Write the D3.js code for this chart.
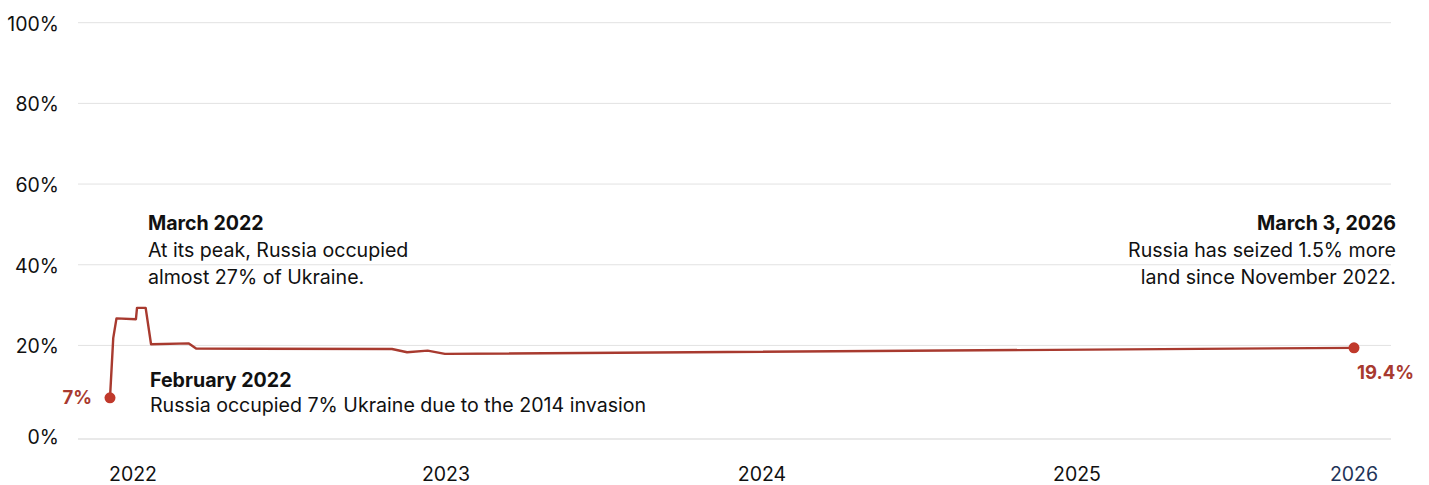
<!DOCTYPE html>
<html>
<head>
<meta charset="utf-8">
<script src="https://cdn.jsdelivr.net/npm/d3@7"></script>
<style>
  html, body { margin: 0; padding: 0; background: #fff; }
  svg { display: block; font-family: Inter, "Noto Sans", sans-serif; }
</style>
</head>
<body>
<svg id="chart"></svg>
<script>
// occupied share of Ukraine (%)
const dates = ["2022-02-24", "2022-02-27", "2022-03-02", "2022-03-20", "2022-03-21", "2022-03-29",
               "2022-04-03", "2022-05-08", "2022-05-15", "2022-11-12", "2022-11-26", "2022-12-15",
               "2022-12-31", "2026-03-03"];
const occupied = [7, 21.8, 26.7, 26.5, 29.3, 29.3, 20.3, 20.5, 19.2, 19.1, 18.3, 18.7, 17.9, 19.4];

const yTicks = [20, 40, 60, 80, 100];
const yearTicks = ["2023-01-01", "2024-01-01", "2025-01-01"];
const yearLabels = ["2023", "2024", "2025"];

const notes = [
  { date: "2022-03-20", anchor: "start", dx: 12, title: "March 2022",
    lines: ["At its peak, Russia occupied", "almost 27% of Ukraine."] },
  { date: "2026-03-03", anchor: "end", dx: 42, title: "March 3, 2026",
    lines: ["Russia has seized 1.5% more", "land since November 2022."] }
];

const width = 1429, height = 485;
const svg = d3.select("#chart").attr("width", width).attr("height", height);

const parse = d3.timeParse("%Y-%m-%d");
const data = dates.map((d, i) => ({ date: parse(d), value: occupied[i] }));
const first = data[0], last = data[data.length - 1];

const gridLeft = 78, gridRight = 1391;
const noteSize = 19.6, axisSize = 19.5;

// the time axis is stretched in 2022, so use a piecewise time scale
const x = d3.scaleTime()
    .domain([first.date, ...yearTicks.map(parse), last.date])
    .range([110, 446, 762, 1077, 1354]);

const y = d3.scaleLinear()
    .domain([-3.2, 100])
    .range([439, 22.7]);

const red = "#a83a2f";
const dotRed = "#c0392b";

// GRID
svg.append("g")
  .selectAll("line")
  .data(yTicks)
  .join("line")
    .attr("x1", gridLeft).attr("x2", gridRight)
    .attr("y1", d => y(d)).attr("y2", d => y(d))
    .attr("stroke", "#e2e2e2").attr("stroke-width", 1);

svg.append("line")
    .attr("x1", gridLeft).attr("x2", gridRight)
    .attr("y1", y(-3.2)).attr("y2", y(-3.2))
    .attr("stroke", "#e2e2e2").attr("stroke-width", 1.5);

// Y LABELS
const yLab = svg.append("g")
    .attr("font-size", axisSize).attr("fill", "#111").attr("text-anchor", "end");

yLab.selectAll("text")
  .data(yTicks)
  .join("text")
    .attr("x", 59)
    .attr("y", d => y(d) + 8)
    .text(d => d + "%");

yLab.append("text")
    .attr("x", 59).attr("y", y(-3.2) + 5)
    .text("0%");

// X LABELS
const xLab = svg.append("g").attr("font-size", axisSize).attr("fill", "#111");

xLab.append("text")
    .attr("x", x(first.date) - 1).attr("y", 481)
    .text("2022");

xLab.selectAll(".yr")
  .data(yearTicks)
  .join("text")
    .attr("class", "yr")
    .attr("x", d => x(parse(d)))
    .attr("y", 481)
    .attr("text-anchor", "middle")
    .text((d, i) => yearLabels[i]);

xLab.append("text")
    .attr("x", x(last.date)).attr("y", 481)
    .attr("text-anchor", "middle")
    .attr("fill", "#1f3458")
    .text("2026");

// LINE
svg.append("path")
    .datum(data)
    .attr("fill", "none")
    .attr("stroke", red)
    .attr("stroke-width", 2.4)
    .attr("stroke-linejoin", "round")
    .attr("d", d3.line().x(d => x(d.date)).y(d => y(d.value)));

svg.selectAll(".dot")
  .data([first, last])
  .join("circle")
    .attr("class", "dot")
    .attr("cx", d => x(d.date))
    .attr("cy", d => y(d.value))
    .attr("r", 5.5)
    .attr("fill", dotRed);

// END LABELS
svg.append("text")
    .attr("x", x(first.date) - 18).attr("y", y(first.value) + 6)
    .attr("text-anchor", "end")
    .attr("font-size", 18.5).attr("font-weight", 700)
    .attr("fill", red)
    .text(first.value + "%");

svg.append("text")
    .attr("x", x(last.date) + 3).attr("y", y(last.value) + 31)
    .attr("font-size", 18.5).attr("font-weight", 700)
    .attr("fill", red)
    .text(last.value + "%");

// ANNOTATIONS
notes.forEach(n => {
  const t = svg.append("text")
      .attr("x", x(parse(n.date)) + n.dx)
      .attr("y", 230)
      .attr("text-anchor", n.anchor)
      .attr("font-size", noteSize)
      .attr("fill", "#111");
  t.append("tspan").attr("font-weight", 700).text(n.title);
  n.lines.forEach((l, i) => {
    t.append("tspan")
      .attr("x", x(parse(n.date)) + n.dx)
      .attr("y", 257 + i * 27)
      .text(l);
  });
});

const feb = svg.append("text")
    .attr("x", x(first.date) + 40)
    .attr("y", 387)
    .attr("font-size", noteSize)
    .attr("fill", "#111");
feb.append("tspan").attr("font-weight", 700).text("February 2022");
feb.append("tspan")
    .attr("x", x(first.date) + 40).attr("y", 412)
    .text("Russia occupied 7% Ukraine due to the 2014 invasion");
</script>
</body>
</html>
